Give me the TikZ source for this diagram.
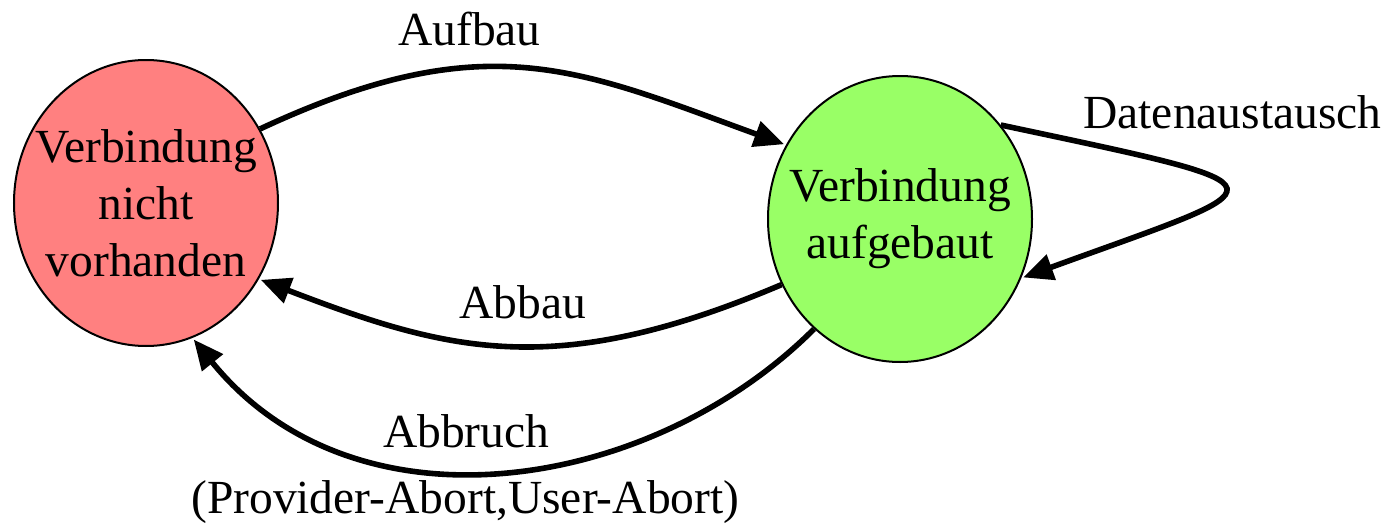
\documentclass[tikz,border=0pt]{standalone}
\usepackage{fontspec}
\setmainfont{Liberation Serif}
\usetikzlibrary{automata,positioning,shapes.geometric,arrows.meta}
\definecolor{nichtrot}{RGB}{255,128,128}
\definecolor{aufgruen}{RGB}{153,255,102}

\begin{document}
\begin{tikzpicture}[shorten >=1pt,node distance=377pt,on grid,
	>={Triangle[length=15pt,width=13pt]},
	font=\fontsize{23.75pt}{28.5pt}\selectfont,
	every state/.style={ellipse,draw,line width=1pt,inner xsep=-14pt,inner ysep=0pt,
		minimum width=132pt,minimum height=143pt,align=center},
	lbl/.style={inner sep=0pt}]
	\useasboundingbox (-73pt,101.5pt) rectangle (623.5pt,-161pt);
	\node[state,fill=nichtrot](nicht) {Verbindung\\nicht\\vorhanden};
	\node[state,fill=aufgruen](aufgebaut)[right=of nicht,yshift=-8pt] {Verbindung\\aufgebaut};
	\path[->,line width=2.8pt]
	(nicht.33) edge [out=25,in=160,out distance=125pt,in distance=110pt]
		node[lbl,pos=0.4,above=9pt,xshift=-7pt] (aufbau) {Aufbau} (aufgebaut.147)
	(aufgebaut.43) edge [out=-12,in=20,out distance=154.5pt,in distance=140.5pt]
		node[lbl,midway,above=29pt,xshift=4.5pt] (daten) {Datenaustausch} (aufgebaut.-26)
	(aufgebaut.209) edge [out=203,in=-21,out distance=123pt,in distance=102pt]
		node[lbl,midway,above=12pt,xshift=8pt] (abbau) {Abbau} (nicht.-34)
	(aufgebaut.232) edge [out=225,in=-51,out distance=115pt,in distance=130pt]
		node[lbl,pos=0.55,above=10pt,xshift=-1.5pt] (abbruch) {Abbruch}
		node[lbl,pos=0.55,anchor=base,yshift=-21.5pt,xshift=-2pt] (grund) {(Provider-Abort,User-Abort)} (nicht.-71);
\end{tikzpicture}
\end{document}
